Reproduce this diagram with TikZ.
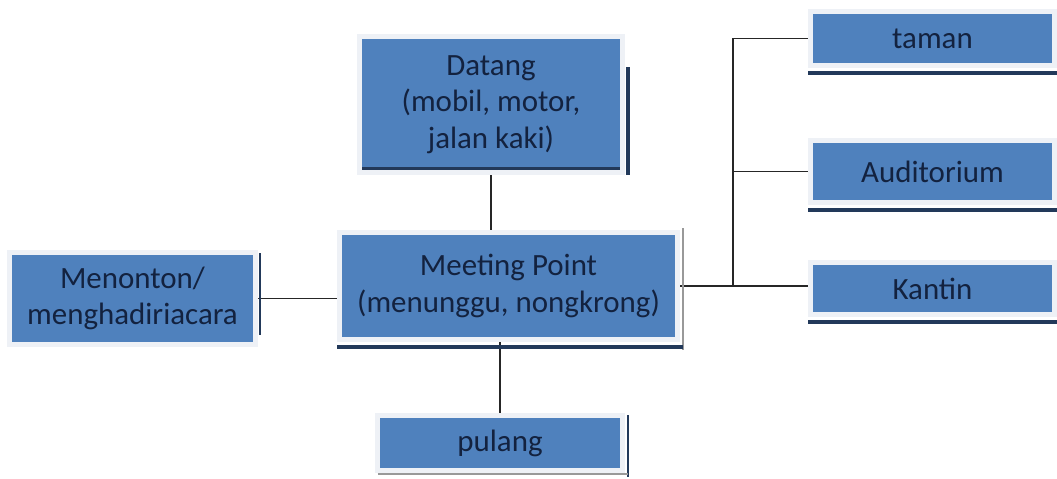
\documentclass[tikz,border=0pt]{standalone}
\usepackage{fontspec}
\setmainfont{Carlito}
\usetikzlibrary{positioning,backgrounds}

\definecolor{boxblue}{HTML}{4F81BD}
\definecolor{rimgray}{HTML}{EEF1F6}
\definecolor{shadenavy}{HTML}{22395A}
\definecolor{inknavy}{HTML}{13223F}

\tikzset{
  place/.style={fill=boxblue, draw=rimgray, line width=1mm, text=inknavy,
    align=center, inner sep=0pt, outer sep=0pt,
    font=\fontsize{17.6}{20.8}\selectfont},
  link/.style={draw=black!85, line width=1pt},
  shade/.style={draw=shadenavy, line width=0.7mm},
  faint/.style={draw=black!40, line width=0.3mm}
}

\begin{document}
\begin{tikzpicture}[x=0.02cm, y=-0.02cm]
        \useasboundingbox (0,0) rectangle (1057,478);

        % boxes
        \node[place, minimum width=5.26cm, minimum height=2.72cm] (dat) at (491,104.5) {Datang\\(mobil, motor,\\jalan kaki)};
        \node[place, minimum width=4.92cm, minimum height=1.84cm] (men) at (132.5,298.5) {Menonton/\\menghadiriacara};
        \node[place, minimum width=6.76cm, minimum height=2.14cm] (mp) at (508.5,286) {Meeting Point\\(menunggu, nongkrong)};
        \node[place, minimum width=4.88cm, minimum height=1.08cm] (taman) at (932.5,38.5) {taman};
        \node[place, minimum width=4.88cm, minimum height=1.24cm] (aud) at (932.5,171.5) {Auditorium};
        \node[place, minimum width=4.88cm, minimum height=1.04cm] (kan) at (932.5,288.5) {Kantin};
        \node[place, minimum width=4.90cm, minimum height=1.10cm] (pul) at (500,443) {pulang};

        % shadow edges
        \draw[shade] ([shift={(5.5,30.5)}]dat.north east) -- ([shift={(5.5,2.5)}]dat.south east);
        \draw[shade, line width=0.6mm] ([shift={(2.5,-3.5)}]dat.south west) -- ([shift={(-2.5,-3.5)}]dat.south east);
        \draw[shade, line width=0.35mm] ([shift={(4.5,0.5)}]men.north east) -- ([shift={(4.5,-9.5)}]men.south east);
        \draw[faint] ([shift={(5.5,-4.5)}]mp.north east) -- ([shift={(5.5,10.5)}]mp.south east);
        \draw[shade, line width=0.8mm] ([shift={(-2.5,7.5)}]mp.south west) -- ([shift={(5.5,7.5)}]mp.south east);
        \draw[shade, line width=0.8mm] ([shift={(-2.5,7.5)}]taman.south west) -- ([shift={(2.5,7.5)}]taman.south east);
        \draw[shade, line width=0.8mm] ([shift={(-2.5,7.5)}]aud.south west) -- ([shift={(2.5,7.5)}]aud.south east);
        \draw[shade, line width=0.8mm] ([shift={(-2.5,7.5)}]kan.south west) -- ([shift={(2.5,7.5)}]kan.south east);
        \draw[shade, line width=0.35mm] ([shift={(5.5,-0.5)}]pul.north east) -- ([shift={(5.5,6.5)}]pul.south east);
        \draw[faint] ([shift={(0,3.5)}]pul.south west) -- ([shift={(5.5,3.5)}]pul.south east);

        % connectors
        \path (733,0) coordinate (trunk);
        \coordinate (hub) at (trunk |- mp.east);
        \begin{pgfonlayer}{background}
          \draw[link] (dat.south) -- (dat.south |- mp.north);
          \draw[link] (pul.north |- mp.south) -- (pul.north);
          \draw[link] (men.east) -- (men.east -| mp.west);
          \draw[link] (mp.east) -- (mp.east -| kan.west);
          \draw[link] (taman.west) -| (hub);
          \draw[link] (aud.west) -| (hub);
        \end{pgfonlayer}
    \end{tikzpicture}
\end{document}
